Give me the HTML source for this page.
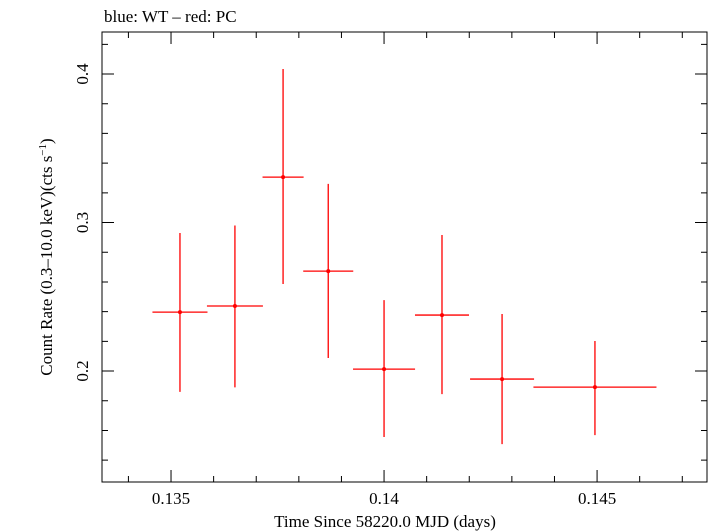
<!DOCTYPE html>
<html><head><meta charset="utf-8"><style>
body{margin:0;background:#fff}
svg{display:block;font-family:"Liberation Serif",serif}
</style></head><body>
<svg id="chart" width="709" height="532" viewBox="0 0 709 532" xmlns="http://www.w3.org/2000/svg">
<text x="104" y="22" font-size="17">blue: WT – red: PC</text>
<rect x="102" y="32" width="605" height="450" fill="none" stroke="#000" stroke-width="1"/>
<g id="ticks"></g><g id="marks"></g>
<text x="385" y="527" font-size="17" text-anchor="middle">Time Since 58220.0 MJD (days)</text>
<text transform="translate(52,257) rotate(-90)" font-size="17" text-anchor="middle">Count Rate (0.3–10.0 keV)(cts s<tspan font-size="11" dy="-6">−1</tspan><tspan dy="6">)</tspan></text>
</svg>
<script>
const xCenters=[0.13521,0.13650,0.13763,0.13869,0.14000,0.14136,0.14277,0.14495];
const xHalfWidths=[0.000646,0.000657,0.000482,0.000587,0.000728,0.000634,0.000751,0.001444];
const rates=[0.2397,0.2438,0.3306,0.2673,0.2013,0.2377,0.1946,0.1892];
const rateHigh=[0.293,0.298,0.4034,0.326,0.2478,0.2916,0.2384,0.2202];
const rateLow=[0.186,0.189,0.2586,0.2088,0.1556,0.1845,0.1508,0.1569];
const xTickLabels=["0.135","0.14","0.145"];
const yTickLabels=["0.2","0.3","0.4"];
const X0=102,X1=707,Y0=32,Y1=482,xmin=0.13338,xmax=0.14758,ymin=0.1253,ymax=0.4283;
const sx=v=>X0+(v-xmin)/(xmax-xmin)*(X1-X0);
const sy=v=>Y1-(v-ymin)/(ymax-ymin)*(Y1-Y0);
const NS="http://www.w3.org/2000/svg";
function mk(tag,attrs,parent){const e=document.createElementNS(NS,tag);for(const k in attrs)e.setAttribute(k,attrs[k]);parent.appendChild(e);return e;}
const tg=document.getElementById('ticks'),mg=document.getElementById('marks');
for(let i=0;i<=14;i++){const v=0.134+i*0.001;if(v>xmax)break;const x=sx(v);const major=Math.abs((v*1000)%5)<1e-6||Math.abs((v*1000)%5-5)<1e-6;const L=major?12:6;
 const t=mk('path',{d:`M${x},${Y1}V${Y1-L}M${x},${Y0}V${Y0+L}`,stroke:'#000','stroke-width':1},tg);
 
 }
xTickLabels.forEach(s=>{const t=mk('text',{x:sx(parseFloat(s)),y:504,'font-size':17,'text-anchor':'middle'},tg);t.textContent=s;
 
 });
for(let i=0;i<=20;i++){const v=0.14+i*0.02;if(v>ymax)break;if(v<ymin)continue;const y=sy(v);const major=Math.round(v*100)%10===0;const L=major?12:6;
 const t=mk('path',{d:`M${X0},${y}H${X0+L}M${X1},${y}H${X1-L}`,stroke:'#000','stroke-width':1},tg);
 
 }
yTickLabels.forEach(s=>{const y=sy(parseFloat(s));const t=mk('text',{transform:`translate(88,${y}) rotate(-90)`,'font-size':17,'text-anchor':'middle'},tg);t.textContent=s;
 
 });
xCenters.forEach((c,i)=>{const g=mk('g',{},mg);
 
 
 mk('path',{d:`M${sx(c-xHalfWidths[i])},${sy(rates[i])}H${sx(c+xHalfWidths[i])}M${sx(c)},${sy(rateHigh[i])}V${sy(rateLow[i])}`,stroke:'#f00','stroke-width':1.3},g);
 mk('circle',{cx:sx(c),cy:sy(rates[i]),r:2,fill:'#f00'},g);});
</script>
</body></html>
